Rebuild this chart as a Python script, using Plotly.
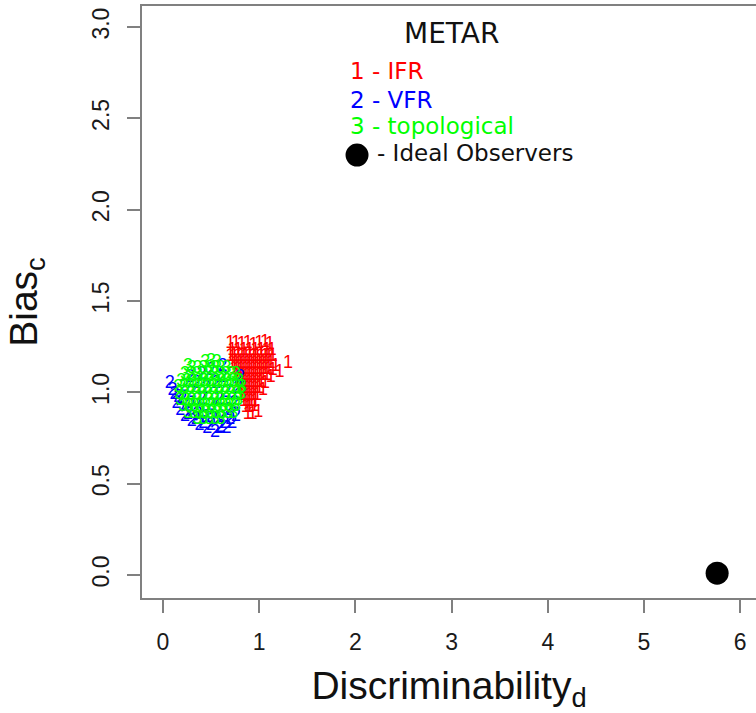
import plotly.graph_objects as go

# ---- data ----
x_ifr = [0.70, 0.76, 0.82, 0.88, 0.94, 1.00, 1.06, 1.11,
         0.72, 0.78, 0.84, 0.90, 0.96, 1.02, 1.08, 1.13,
         0.70, 0.74, 0.78, 0.82, 0.86, 0.90, 0.94, 0.98, 1.02, 1.06, 1.10, 1.14,
         0.72, 0.76, 0.80, 0.84, 0.88, 0.92, 0.96, 1.00, 1.04, 1.08, 1.12, 1.17, 1.30,
         0.74, 0.78, 0.82, 0.86, 0.90, 0.94, 0.98, 1.02, 1.06, 1.10, 1.14, 1.21,
         0.76, 0.80, 0.84, 0.88, 0.92, 0.96, 1.00, 1.04, 1.08, 1.12,
         0.78, 0.82, 0.86, 0.90, 0.94, 0.98, 1.02, 1.06,
         0.80, 0.84, 0.88, 0.92, 0.96, 1.00, 1.04,
         0.82, 0.86, 0.90, 0.94, 0.98,
         0.84, 0.88, 0.92, 0.96,
         0.86, 0.90, 0.95,
         0.88, 0.93, 0.99]
y_ifr = [1.265, 1.27, 1.26, 1.265, 1.255, 1.27, 1.275, 1.26,
         1.23, 1.23, 1.23, 1.23, 1.23, 1.23, 1.23, 1.23,
         1.195, 1.195, 1.195, 1.195, 1.195, 1.195, 1.195, 1.195, 1.195, 1.195, 1.195, 1.195,
         1.16, 1.16, 1.16, 1.16, 1.16, 1.16, 1.16, 1.16, 1.16, 1.16, 1.16, 1.14, 1.16,
         1.125, 1.125, 1.125, 1.125, 1.125, 1.125, 1.125, 1.125, 1.125, 1.125, 1.12, 1.11,
         1.09, 1.09, 1.09, 1.09, 1.09, 1.09, 1.09, 1.09, 1.09, 1.08,
         1.055, 1.055, 1.055, 1.055, 1.055, 1.055, 1.055, 1.05,
         1.02, 1.02, 1.02, 1.02, 1.02, 1.02, 1.01,
         0.985, 0.985, 0.985, 0.985, 0.98,
         0.95, 0.95, 0.95, 0.95,
         0.915, 0.915, 0.92,
         0.88, 0.88, 0.89]

x_vfr = [0.07, 0.12, 0.14, 0.18, 0.23, 0.30, 0.38, 0.46, 0.54, 0.60, 0.66, 0.72, 0.76,
         0.20, 0.28, 0.36, 0.44, 0.52, 0.60, 0.68, 0.74, 0.30, 0.40, 0.50, 0.58, 0.66,
         0.22, 0.35, 0.45, 0.55, 0.62, 0.40, 0.50, 0.28, 0.78, 0.80, 0.62,
         0.10, 0.16, 0.26, 0.34, 0.42, 0.50, 0.58, 0.64, 0.70]
y_vfr = [1.05, 0.99, 0.94, 0.90, 0.87, 0.84, 0.82, 0.80, 0.78, 0.81, 0.80, 0.83, 0.87,
         0.96, 0.92, 0.88, 0.86, 0.85, 0.86, 0.90, 0.94, 1.00, 0.96, 0.93, 0.96, 1.00,
         1.03, 1.05, 1.02, 1.05, 1.08, 1.10, 1.12, 1.08, 1.02, 1.08, 1.14,
         1.01, 0.97, 0.88, 0.85, 0.83, 0.82, 0.80, 0.83, 0.85]

x_topo = [0.44, 0.50, 0.56, 0.26,
          0.30, 0.36, 0.42, 0.48, 0.54, 0.60, 0.66,
          0.23, 0.29, 0.35, 0.41, 0.47, 0.53, 0.59, 0.65, 0.71, 0.76,
          0.19, 0.25, 0.31, 0.37, 0.43, 0.49, 0.55, 0.61, 0.67, 0.73, 0.79,
          0.16, 0.22, 0.28, 0.34, 0.40, 0.46, 0.52, 0.58, 0.64, 0.70, 0.76, 0.82,
          0.17, 0.23, 0.29, 0.35, 0.41, 0.47, 0.53, 0.59, 0.65, 0.71, 0.77, 0.81,
          0.18, 0.24, 0.30, 0.36, 0.42, 0.48, 0.54, 0.60, 0.66, 0.72, 0.78,
          0.21, 0.27, 0.33, 0.39, 0.45, 0.51, 0.57, 0.63, 0.69, 0.76,
          0.26, 0.32, 0.38, 0.44, 0.50, 0.56, 0.62, 0.68, 0.73,
          0.36, 0.42, 0.48, 0.54, 0.60]
y_topo = [1.165, 1.17, 1.165, 1.14,
          1.13, 1.13, 1.13, 1.13, 1.13, 1.13, 1.13,
          1.095, 1.095, 1.095, 1.095, 1.095, 1.095, 1.095, 1.095, 1.095, 1.095,
          1.06, 1.06, 1.06, 1.06, 1.06, 1.06, 1.06, 1.06, 1.06, 1.06, 1.06,
          1.025, 1.025, 1.025, 1.025, 1.025, 1.025, 1.025, 1.025, 1.025, 1.025, 1.025, 1.025,
          0.99, 0.99, 0.99, 0.99, 0.99, 0.99, 0.99, 0.99, 0.99, 0.99, 0.99, 0.99,
          0.955, 0.955, 0.955, 0.955, 0.955, 0.955, 0.955, 0.955, 0.955, 0.955, 0.955,
          0.92, 0.92, 0.92, 0.92, 0.92, 0.92, 0.92, 0.92, 0.92, 0.92,
          0.885, 0.885, 0.885, 0.885, 0.885, 0.885, 0.885, 0.885, 0.885,
          0.85, 0.85, 0.85, 0.85, 0.85]

x_ideal = [5.76]
y_ideal = [0.01]

x_ticks = [0, 1, 2, 3, 4, 5, 6]
y_ticks = [0.0, 0.5, 1.0, 1.5, 2.0, 2.5, 3.0]
y_tick_labels = ["0.0", "0.5", "1.0", "1.5", "2.0", "2.5", "3.0"]

RED, BLUE, GREEN = "#FF0000", "#0000FF", "#00FF00"
AX = "#808080"
FONT = "Liberation Sans, Arial, sans-serif"
LFONT = "DejaVu Sans, Verdana, sans-serif"

fig = go.Figure()
for xs, ys, ch, col in [(x_ifr, y_ifr, "1", RED), (x_vfr, y_vfr, "2", BLUE), (x_topo, y_topo, "3", GREEN)]:
    fig.add_trace(go.Scatter(x=xs, y=ys, mode="text", text=[ch] * len(xs),
                             textfont=dict(color=col, size=18, family=FONT),
                             textposition="middle center", hoverinfo="skip", showlegend=False))
fig.add_trace(go.Scatter(x=x_ideal, y=y_ideal, mode="markers",
                         marker=dict(color="black", size=23), showlegend=False))

# legend (drawn as text like the original)
fig.add_annotation(x=2.994, y=2.962, text="METAR", showarrow=False, xanchor="center", yanchor="middle",
                   font=dict(size=28, color="#111", family=LFONT))
for yy, txt, col in [(2.759, "1 - IFR", RED), (2.600, "2 - VFR", BLUE), (2.46, "3 - topological", GREEN)]:
    fig.add_annotation(x=1.923, y=yy, text=txt, showarrow=False, xanchor="left", yanchor="middle",
                       font=dict(size=23, color=col, family=LFONT))
fig.add_annotation(x=2.204, y=2.312, text="- Ideal Observers", showarrow=False, xanchor="left", yanchor="middle",
                   font=dict(size=23, color="#111", family=LFONT))
fig.add_shape(type="circle", xref="x", yref="y", xsizemode="pixel", ysizemode="pixel",
              xanchor=2.017, yanchor=2.299, x0=-11.5, x1=11.5, y0=-11.5, y1=11.5,
              fillcolor="black", line=dict(width=0))

fig.update_layout(
    width=756, height=713,
    margin=dict(l=142, r=0, t=6, b=115),
    paper_bgcolor="white", plot_bgcolor="white",
    showlegend=False,
)
fig.update_xaxes(range=[-0.218, 6.164], tickvals=x_ticks, ticks="outside", ticklen=13, tickwidth=2,
                 tickcolor=AX, showline=True, linecolor=AX, linewidth=2, mirror=True,
                 showgrid=False, zeroline=False, ticklabelstandoff=9,
                 tickfont=dict(size=23, family=FONT, color="#1a1a1a"),
                 title=dict(text="Discriminability<sub>d</sub>", font=dict(size=39, family=FONT, color="#111"),
                            standoff=19))
fig.update_yaxes(range=[-0.126, 3.115], tickvals=y_ticks, ticktext=y_tick_labels, tickangle=-90,
                 ticks="outside", ticklen=13, tickwidth=2, tickcolor=AX,
                 showline=True, linecolor=AX, linewidth=2, mirror=False,
                 showgrid=False, zeroline=False, ticklabelstandoff=9,
                 tickfont=dict(size=23, family=FONT, color="#1a1a1a"),
                 title=dict(text="Bias<sub>c</sub>", font=dict(size=39, family=FONT, color="#111"),
                            standoff=38))

fig.write_html("out.html", config={"displayModeBar": False},
               post_script="document.body.style.margin='0px';document.body.style.overflow='hidden';")
